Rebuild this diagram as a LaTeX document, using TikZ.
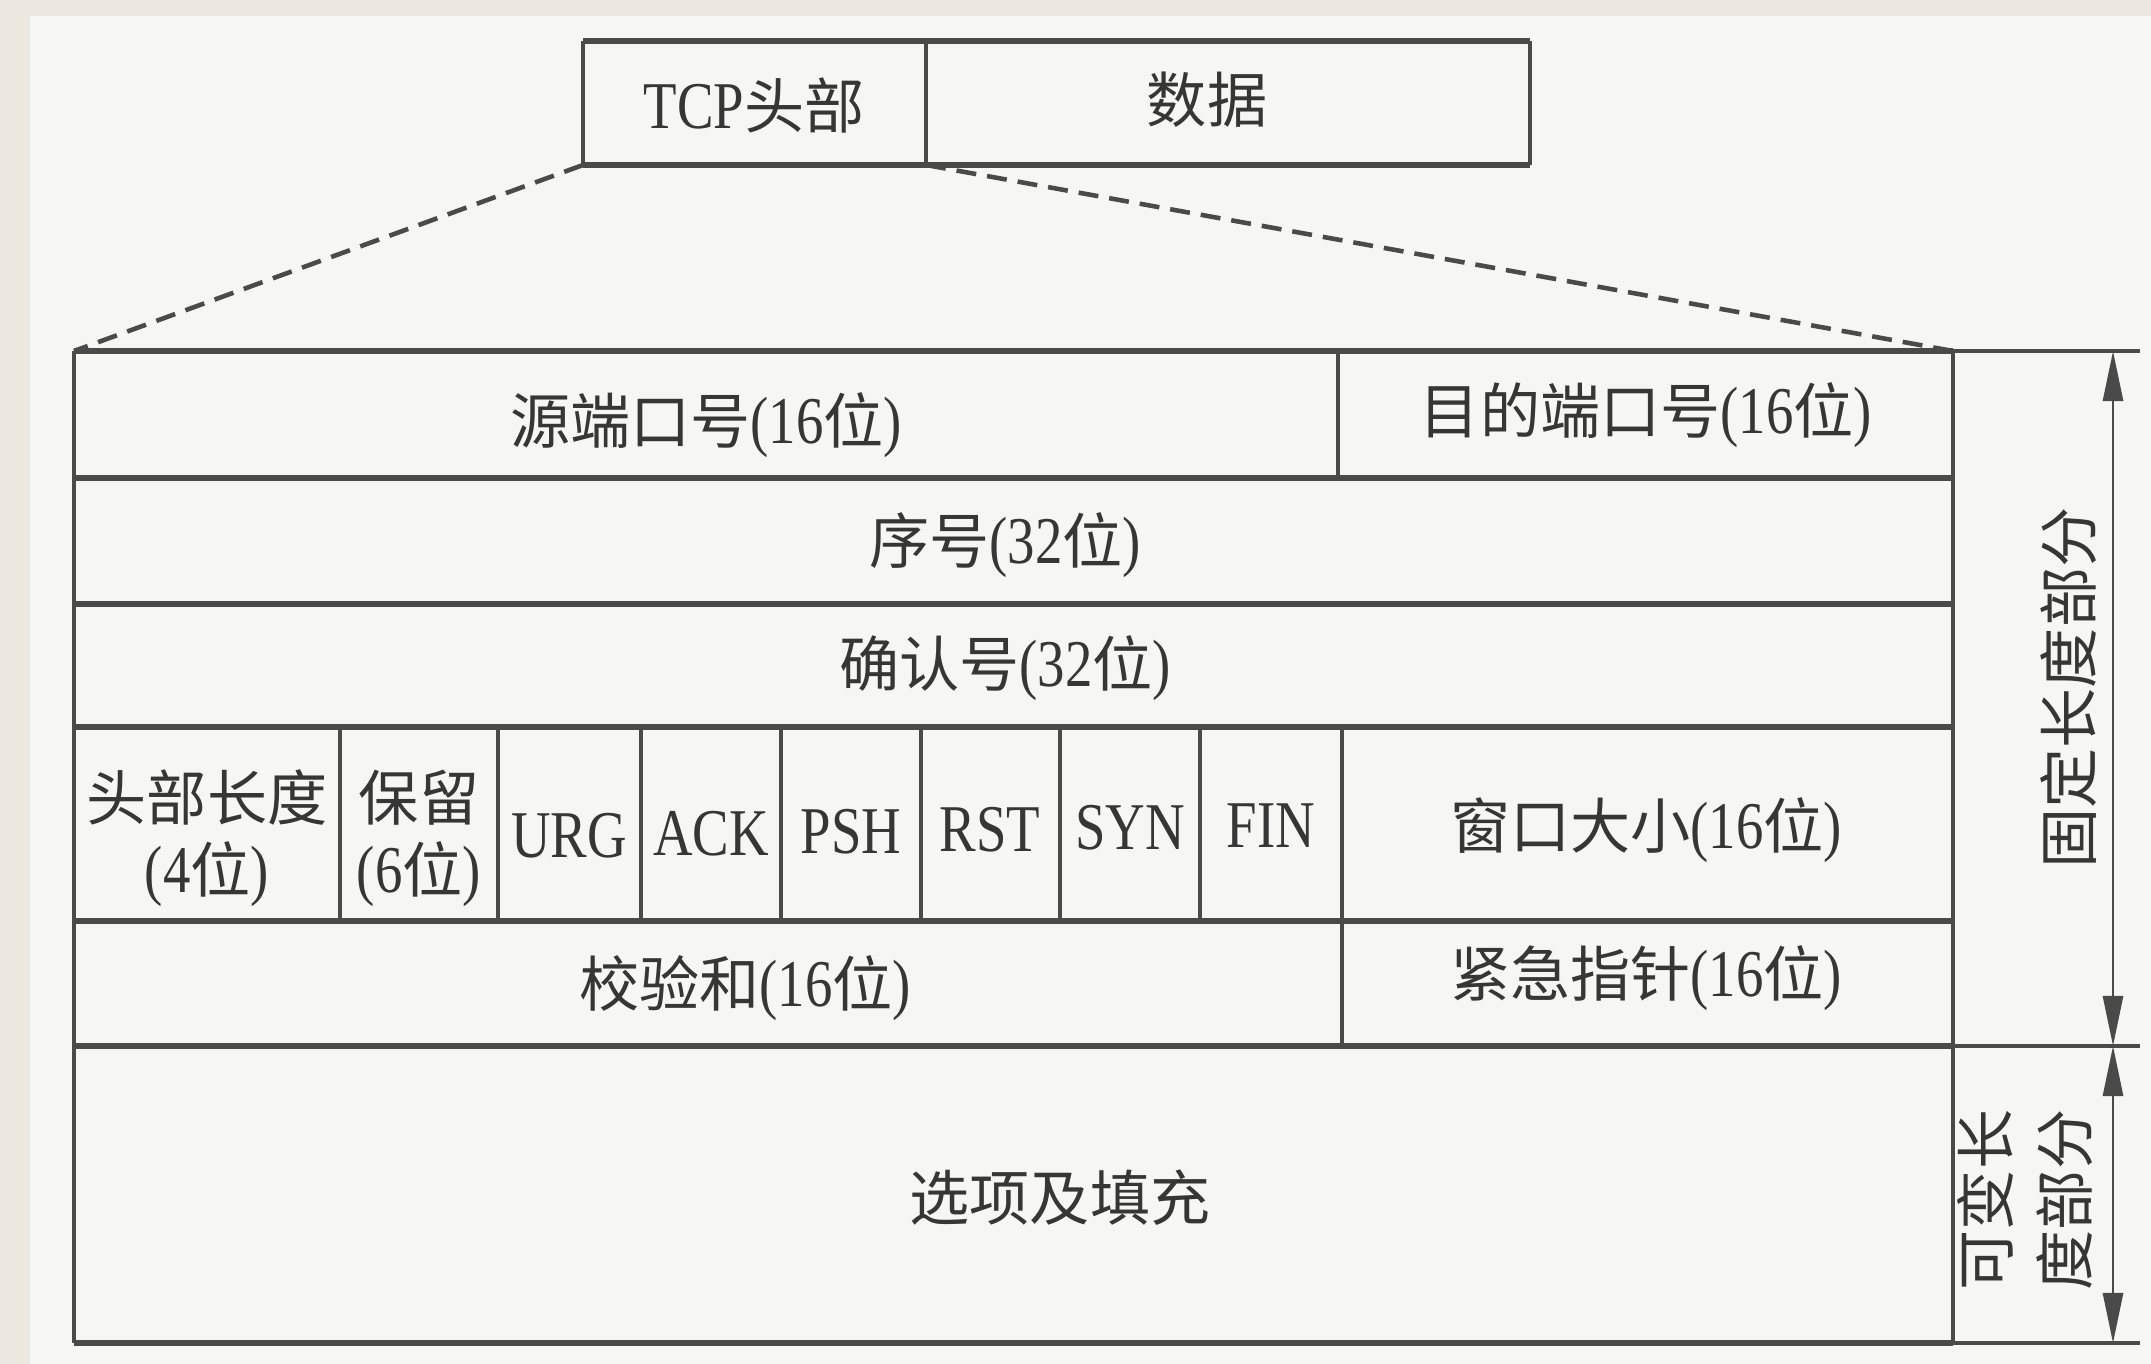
\documentclass[tikz,border=0pt]{standalone}
\usepackage{fontspec}
\setmainfont{Liberation Serif}[FakeStretch=0.82]
\newfontfamily\cjk{Noto Sans CJK SC}[Scale=0.9]
\usetikzlibrary{arrows.meta}
\newcommand\zh[1]{{\cjk #1}}
\definecolor{pagebeige}{HTML}{ECE8DF}
\definecolor{pagewhite}{HTML}{F6F6F5}
\definecolor{ink}{HTML}{4A4A4A}
\definecolor{txtink}{HTML}{363636}
\tikzset{
  hline/.style={draw=ink, line width=1.6pt},
  vline/.style={draw=ink, line width=0.9pt},
  dashline/.style={draw=ink, line width=1.3pt, dash pattern=on 0.2cm off 0.11cm},
  txt/.style={text=txtink, inner sep=0pt, align=center, font=\fontsize{19}{20.5}\selectfont},
  dimarrow/.style={draw=ink, line width=0.8pt, {Triangle[length=0.5cm,width=0.2cm]}-{Triangle[length=0.5cm,width=0.2cm]}}
}
\begin{document}
\begin{tikzpicture}[x=0.01cm, y=-0.01cm]
\fill[pagebeige] (0,0) rectangle (2151,1364);
\fill[pagewhite] (30,16) rectangle (2151,1364);
\useasboundingbox (0,0) rectangle (2151,1364);

% top box
\coordinate (bTL) at (583,41);
\coordinate (bTM) at (926,41);
\coordinate (bTR) at (1530,41);
\coordinate (bBL) at (583,165);
\coordinate (bBM) at (926,165);
\coordinate (bBR) at (1530,165);
\draw[vline] (bTL) -- (bBL);
\draw[vline] (bTM) -- (bBM);
\draw[vline] (bTR) -- (bBR);
\draw[hline] (bTL) -- (bTR);
\draw[hline] (bBL) -- (bBR);
\node[txt] (tcph) at (754,105) {TCP\zh{头部}};
\node[txt] (data) at (1207,100) {\zh{数据}};

% table corners
\coordinate (tTL) at (74,351);
\coordinate (tTR) at (1953,351);
\coordinate (tBL) at (74,1343);
\coordinate (tBR) at (1953,1343);

% dashed expansion
\draw[dashline] (bBL) -- (tTL);
\draw[dashline] (bBM) -- (tTR);

% horizontal lines
\foreach \yy in {478,604,727,921,1046} \draw[hline] (74,\yy) -- (1953,\yy);
\draw[hline] (tTL) -- (tTR);
\draw[hline] (tBL) -- (tBR);
% right extensions
\coordinate (eTop) at (2140,351);
\coordinate (eMid) at (2140,1046);
\coordinate (eBot) at (2140,1343);
\draw[vline] (tTR) -- (eTop);
\draw[vline] (1953,1046) -- (eMid);
\draw[vline] (tBR) -- (eBot);

% verticals
\draw[vline] (tTL) -- (tBL);
\draw[vline] (tTR) -- (tBR);
\draw[vline] (1338,351) -- (1338,478);
\foreach \xx in {340,498,641,781,921,1060,1200} \draw[vline] (\xx,727) -- (\xx,921);
\draw[vline] (1342,727) -- (1342,1046);

% texts
\node[txt] (src) at (706,425) {\zh{源端口号}(16\zh{位})};
\node[txt] (dst) at (1646,415) {\zh{目的端口号}(16\zh{位})};
\node[txt] (seq) at (1005,545) {\zh{序号}(32\zh{位})};
\node[txt] (ackn) at (1005,668) {\zh{确认号}(32\zh{位})};
\node[txt] (hlen) at (207,838) {\zh{头部长度}\\(4\zh{位})};
\node[txt] (rsv) at (419,838) {\zh{保留}\\(6\zh{位})};
\node[txt] (urg) at (569,836) {URG};
\node[txt] (ack) at (711,834) {ACK};
\node[txt] (psh) at (851,832) {PSH};
\node[txt] (rst) at (990,830) {RST};
\node[txt] (syn) at (1130,828) {SYN};
\node[txt] (fin) at (1271,826) {FIN};
\node[txt] (win) at (1646,830) {\zh{窗口大小}(16\zh{位})};
\node[txt] (chk) at (745,988) {\zh{校验和}(16\zh{位})};
\node[txt] (urp) at (1646,978) {\zh{紧急指针}(16\zh{位})};
\node[txt] (opt) at (1060,1198) {\zh{选项及填充}};

% right-side dimensions
\coordinate (aTop) at (2113,351);
\coordinate (aMid) at (2113,1046);
\coordinate (aBot) at (2113,1343);
\draw[dimarrow] (aTop) -- (aMid);
\draw[dimarrow] (aMid) -- (aBot);
\node[txt, rotate=90] (fixed) at (2069,688) {\zh{固定长度部分}};
\node[txt, rotate=90, align=left, font=\fontsize{19}{22.5}\selectfont] (var) at (2025,1200) {\zh{可变长}\\\zh{度部分}};
\end{tikzpicture}
\end{document}
